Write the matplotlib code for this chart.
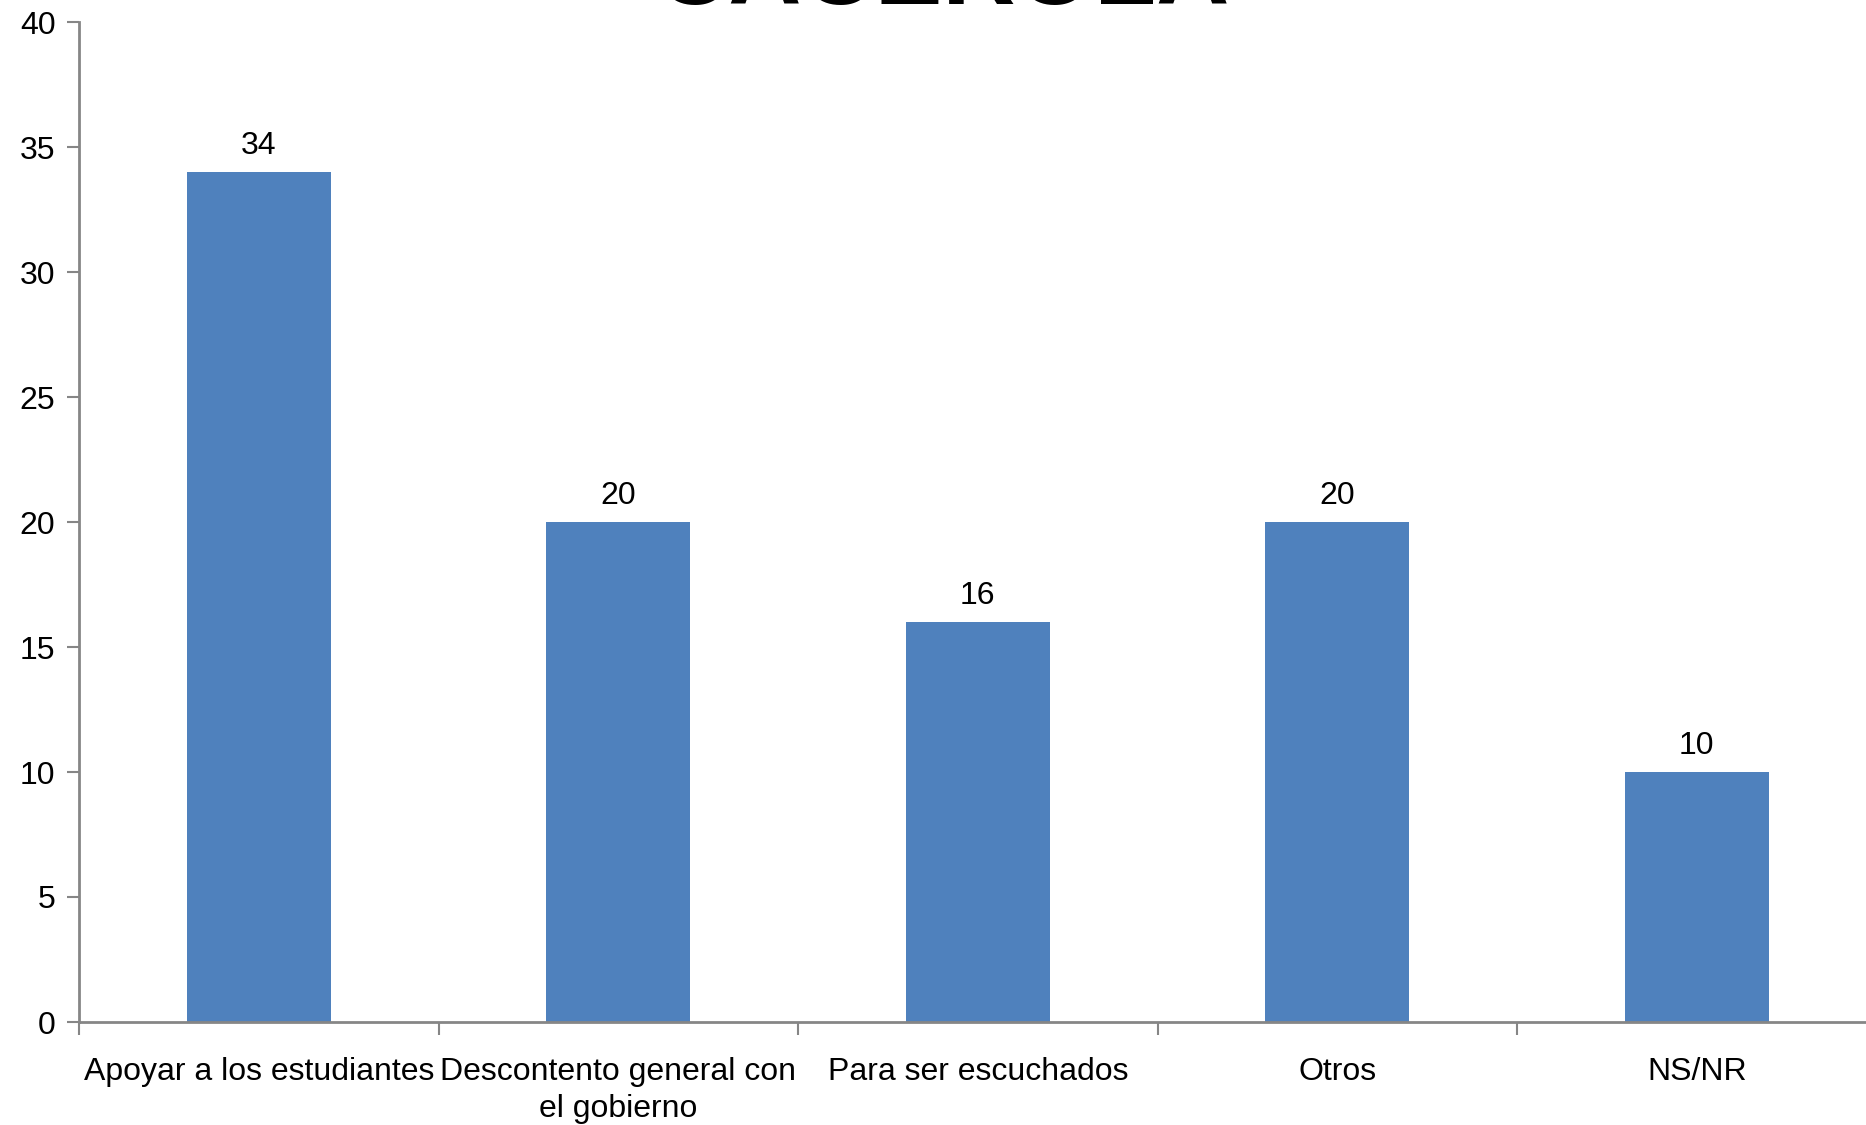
import numpy as np
import matplotlib.pyplot as plt

# Data
categories = ['Apoyar a los estudiantes', 'Descontento general con\nel gobierno',
              'Para ser escuchados', 'Otros', 'NS/NR']
values = [34, 20, 16, 20, 10]
title_text = 'CACEROLA'

plt.rcParams['font.family'] = ['Liberation Sans', 'DejaVu Sans']

fig = plt.figure(figsize=(18.66, 11.25), dpi=100)
W, H = 1866, 1125
x0, x1 = 79, 79 + 5 * 359.5
y0, y1 = 1022, 22
ax = fig.add_axes([x0 / W, 1 - y0 / H, (x1 - x0) / W, (y0 - y1) / H])

bar_color = '#4F81BD'
axis_color = '#868686'
fs = 23

x = np.arange(len(categories))
bars = ax.bar(x, values, width=0.4, color=bar_color, zorder=2)

for xi, v in zip(x, values):
    ax.annotate(str(v), (xi, v), xytext=(0, 19), textcoords='offset points',
                ha='center', va='center', fontsize=fs)

ax.set_xlim(-0.5, len(categories) - 0.5)
ax.set_ylim(0, 40)
ax.set_yticks(range(0, 41, 5))
ax.set_xticks(x)
ax.set_xticklabels(categories, fontsize=fs, linespacing=1.3)
ax.set_xticks(np.arange(-0.5, len(categories), 1), minor=True)
ax.tick_params(axis='x', which='major', length=0, pad=25)
ax.tick_params(axis='x', which='minor', length=9, width=1.5, color=axis_color)
ax.tick_params(axis='y', length=9, width=1.5, color=axis_color, labelsize=fs, pad=8)

for s in ['top', 'right']:
    ax.spines[s].set_visible(False)
for s in ['left', 'bottom']:
    ax.spines[s].set_color(axis_color)
    ax.spines[s].set_linewidth(2)

# Title, mostly cut off at the top of the figure
fig.text(943 / W, 1 - 4 / H, title_text, ha='center', va='baseline',
         fontsize=73, fontweight='bold')

fig.savefig('out.png', dpi=100)
